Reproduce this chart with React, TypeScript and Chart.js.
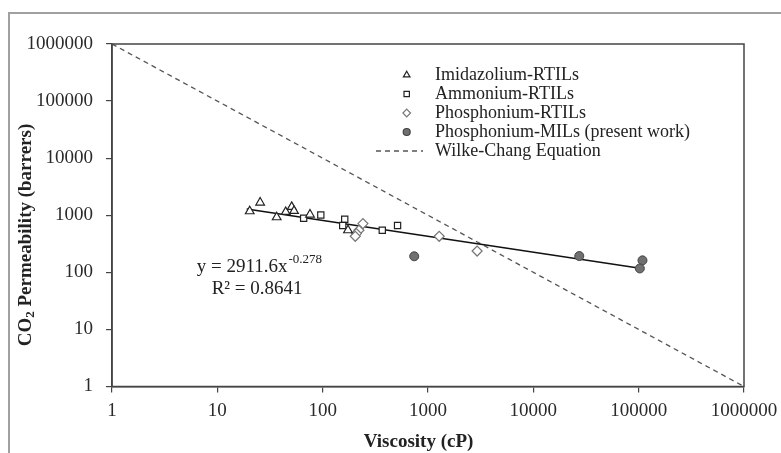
import { useEffect, useRef } from "react";
import { Chart, registerables } from "chart.js";

Chart.register(...registerables);

// Viscosity (cP) and CO2 permeability (barrers) for each ionic-liquid family
const imidazoliumVisc = [20.3, 25.5, 36.6, 44.6, 50.8, 53.5, 75.8, 174];
const imidazoliumPerm = [1175, 1670, 922, 1142, 1400, 1190, 1028, 546];
const ammoniumVisc = [66, 96, 162, 155, 368, 514];
const ammoniumPerm = [885, 1012, 851, 660, 546, 660];
const phosRtilVisc = [241, 221, 209, 204, 1277, 2926];
const phosRtilPerm = [715, 546, 477, 428, 428, 236];
const phosMilVisc = [740, 27300, 108700, 102600];
const phosMilPerm = [191, 193, 162, 117];

// Wilke-Chang reference line
const wilkeChangVisc = [1, 1000000];
const wilkeChangPerm = [1000000, 1];

// Power-law fit y = A * x^B over the data range
const fitA = 2911.6;
const fitB = -0.278;
const fitR2 = "0.8641";
const fitVisc = [19, 103000];

const axisTicks = [1, 10, 100, 1000, 10000, 100000, 1000000];
const legendLabels = [
  "Imidazolium-RTILs",
  "Ammonium-RTILs",
  "Phosphonium-RTILs",
  "Phosphonium-MILs (present work)",
  "Wilke-Chang Equation",
];

const SERIF = "'Liberation Serif', 'Times New Roman', serif";
const TEXT = "#222";

const pts = (xs: number[], ys: number[]) => xs.map((x, i) => ({ x, y: ys[i] }));

function drawMarker(ctx: CanvasRenderingContext2D, kind: string, x: number, y: number, r: number) {
  ctx.save();
  ctx.lineWidth = 1.2;
  ctx.beginPath();
  if (kind === "triangle") {
    ctx.strokeStyle = "#222";
    ctx.fillStyle = "#fff";
    ctx.moveTo(x, y - r);
    ctx.lineTo(x + r * 0.866, y + r * 0.5);
    ctx.lineTo(x - r * 0.866, y + r * 0.5);
    ctx.closePath();
  } else if (kind === "rect") {
    ctx.strokeStyle = "#222";
    ctx.fillStyle = "#fff";
    const s = r * 0.7071;
    ctx.rect(x - s, y - s, 2 * s, 2 * s);
  } else if (kind === "diamond") {
    ctx.strokeStyle = "#777";
    ctx.fillStyle = "#fff";
    ctx.moveTo(x, y - r);
    ctx.lineTo(x + r, y);
    ctx.lineTo(x, y + r);
    ctx.lineTo(x - r, y);
    ctx.closePath();
  } else {
    ctx.strokeStyle = "#444";
    ctx.fillStyle = "#707070";
    ctx.arc(x, y, r, 0, Math.PI * 2);
  }
  ctx.fill();
  ctx.stroke();
  ctx.restore();
}

const decorations = {
  id: "decorations",
  afterDraw(chart: any) {
    const ctx: CanvasRenderingContext2D = chart.ctx;
    const a = chart.chartArea;

    // plot frame
    ctx.save();
    ctx.strokeStyle = "#444";
    ctx.lineWidth = 1.5;
    ctx.strokeRect(a.left, a.top, a.right - a.left, a.bottom - a.top);
    ctx.restore();

    // legend
    const markers = ["triangle", "rect", "diamond", "circle", "dash"];
    const rowY = [61, 80, 99, 118, 137];
    ctx.save();
    ctx.font = `18px ${SERIF}`;
    ctx.fillStyle = TEXT;
    ctx.textBaseline = "middle";
    markers.forEach((m, i) => {
      const y = rowY[i];
      if (m === "dash") {
        ctx.save();
        ctx.strokeStyle = "#555";
        ctx.lineWidth = 1.3;
        ctx.setLineDash([5, 4]);
        ctx.beginPath();
        ctx.moveTo(366, y);
        ctx.lineTo(413, y);
        ctx.stroke();
        ctx.restore();
      } else {
        drawMarker(ctx, m, 396.7, y, m === "circle" ? 3.5 : 3.8);
      }
      ctx.fillText(legendLabels[i], 425, y);
    });
    ctx.restore();

    // fit equation
    ctx.save();
    ctx.fillStyle = TEXT;
    ctx.textBaseline = "alphabetic";
    ctx.font = `19px ${SERIF}`;
    const base = `y = ${fitA}x`;
    const x0 = 186.7;
    ctx.fillText(base, x0, 258);
    const w = ctx.measureText(base).width;
    ctx.font = `13px ${SERIF}`;
    ctx.fillText(String(fitB), x0 + w + 1, 249);
    ctx.font = `19px ${SERIF}`;
    ctx.fillText(`R\u00b2 = ${fitR2}`, 201.7, 280);
    ctx.restore();

    // x axis title
    ctx.save();
    ctx.fillStyle = TEXT;
    ctx.font = `bold 19px ${SERIF}`;
    ctx.textAlign = "center";
    ctx.textBaseline = "alphabetic";
    ctx.fillText("Viscosity (cP)", 408.6, 433);
    ctx.restore();

    // y axis title with subscript
    ctx.save();
    ctx.fillStyle = TEXT;
    ctx.translate(16, 221);
    ctx.rotate(-Math.PI / 2);
    ctx.textBaseline = "middle";
    const big = `bold 19px ${SERIF}`;
    const small = `bold 13px ${SERIF}`;
    ctx.font = big;
    const p1 = "CO";
    const p3 = " Permeability (barrers)";
    const w1 = ctx.measureText(p1).width;
    const w3 = ctx.measureText(p3).width;
    ctx.font = small;
    const w2 = ctx.measureText("2").width;
    let x = -(w1 + w2 + w3) / 2;
    ctx.font = big;
    ctx.fillText(p1, x, 0);
    x += w1;
    ctx.font = small;
    ctx.fillText("2", x, 5);
    x += w2;
    ctx.font = big;
    ctx.fillText(p3, x, 0);
    ctx.restore();
  },
};

export default function App() {
  const ref = useRef<HTMLCanvasElement>(null);

  useEffect(() => {
    const canvas = ref.current;
    if (!canvas) return;

    const tickFont = { family: SERIF, size: 19 };
    const logAxis = (extra: any) => ({
      type: "logarithmic" as const,
      min: 1,
      max: 1000000,
      afterBuildTicks: (scale: any) => {
        scale.ticks = axisTicks.map((v) => ({ value: v }));
      },
      grid: {
        display: true,
        drawOnChartArea: false,
        drawTicks: true,
        tickLength: 6,
        color: "#444",
        lineWidth: 1.2,
      },
      border: { display: true, color: "#444", width: 1.5 },
      ...extra,
    });

    const chart = new Chart(canvas, {
      type: "scatter",
      data: {
        datasets: [
          {
            label: legendLabels[0],
            data: pts(imidazoliumVisc, imidazoliumPerm),
            pointStyle: "triangle",
            pointRadius: 5,
            borderColor: "#222",
            backgroundColor: "#fff",
            borderWidth: 1.2,
          },
          {
            label: legendLabels[1],
            data: pts(ammoniumVisc, ammoniumPerm),
            pointStyle: "rect",
            pointRadius: 4.4,
            borderColor: "#222",
            backgroundColor: "#fff",
            borderWidth: 1.2,
          },
          {
            label: legendLabels[2],
            data: pts(phosRtilVisc, phosRtilPerm),
            pointStyle: "rectRot",
            pointRadius: 5,
            borderColor: "#777",
            backgroundColor: "#fff",
            borderWidth: 1.2,
          },
          {
            label: legendLabels[3],
            data: pts(phosMilVisc, phosMilPerm),
            pointStyle: "circle",
            pointRadius: 4.5,
            borderColor: "#444",
            backgroundColor: "#707070",
            borderWidth: 1,
          },
          {
            label: "Power fit",
            data: fitVisc.map((x) => ({ x, y: fitA * Math.pow(x, fitB) })),
            showLine: true,
            pointRadius: 0,
            borderColor: "#111",
            borderWidth: 1.5,
          },
          {
            label: legendLabels[4],
            data: pts(wilkeChangVisc, wilkeChangPerm),
            showLine: true,
            pointRadius: 0,
            borderColor: "#555",
            borderWidth: 1.3,
            borderDash: [5, 4],
          },
        ],
      },
      options: {
        responsive: false,
        animation: false,
        devicePixelRatio: 1,
        layout: { padding: { top: 30, right: 37, left: 0, bottom: 0 } },
        plugins: { legend: { display: false }, tooltip: { enabled: false } },
        scales: {
          x: logAxis({
            position: "bottom",
            ticks: {
              color: "#2a2a2a",
              font: tickFont,
              autoSkip: false,
              maxRotation: 0,
              padding: 7,
              callback: (v: any) => String(v),
            },
            afterFit: (s: any) => {
              s.height = 66.5;
              s.paddingLeft = 0;
              s.paddingRight = 0;
            },
          }),
          y: logAxis({
            position: "left",
            ticks: {
              color: "#2a2a2a",
              font: tickFont,
              autoSkip: false,
              padding: 13,
              callback: (v: any) => String(v),
            },
            afterFit: (s: any) => {
              s.width = 102;
              s.paddingTop = 0;
              s.paddingBottom = 0;
            },
          }),
        },
      },
      plugins: [decorations],
    });

    return () => chart.destroy();
  }, []);

  // Fixed placement keeps the page itself from scrolling
  return (
    <div
      style={{
        position: "fixed",
        left: 8,
        top: 12,
        width: 771,
        height: 439,
        borderTop: "2px solid #a0a0a0",
        borderLeft: "2px solid #a0a0a0",
      }}
    >
      <canvas
        ref={ref}
        width={771}
        height={439}
        style={{ display: "block", width: 771, height: 439 }}
      />
    </div>
  );
}
